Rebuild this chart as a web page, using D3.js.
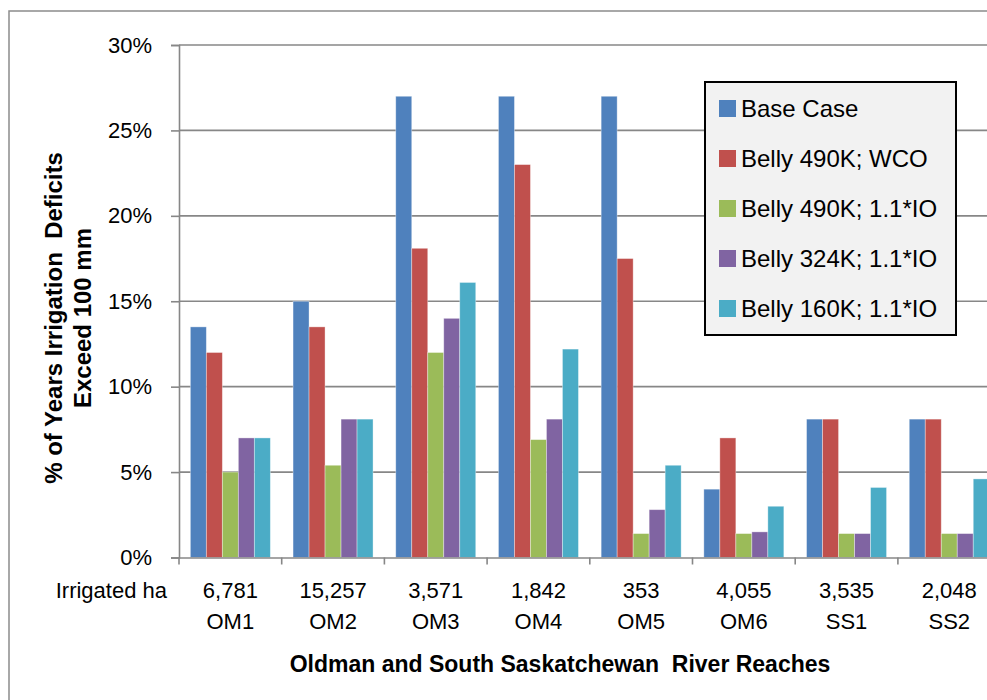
<!DOCTYPE html>
<html>
<head>
<meta charset="utf-8">
<script src="https://cdn.jsdelivr.net/npm/d3@7"></script>
<style>
  html, body { margin: 0; padding: 0; background: #fff; }
  svg { display: block; font-family: "Liberation Sans", Arial, sans-serif; }
  .pre { white-space: pre; }
</style>
</head>
<body>
<svg id="chart" width="987" height="700"></svg>
<script>
const categories = ["OM1", "OM2", "OM3", "OM4", "OM5", "OM6", "SS1", "SS2"];
const irrigatedHa = ["6,781", "15,257", "3,571", "1,842", "353", "4,055", "3,535", "2,048"];
const seriesNames = ["Base Case", "Belly 490K; WCO", "Belly 490K; 1.1*IO", "Belly 324K; 1.1*IO", "Belly 160K; 1.1*IO"];
const baseCase   = [13.5, 15.0, 27.0, 27.0, 27.0, 4.0, 8.1, 8.1];
const belly490WCO = [12.0, 13.5, 18.1, 23.0, 17.5, 7.0, 8.1, 8.1];
const belly490IO = [5.0, 5.4, 12.0, 6.9, 1.4, 1.4, 1.4, 1.4];
const belly324IO = [7.0, 8.1, 14.0, 8.1, 2.8, 1.5, 1.4, 1.4];
const belly160IO = [7.0, 8.1, 16.1, 12.2, 5.4, 3.0, 4.1, 4.6];
const yTicks = [0, 5, 10, 15, 20, 25, 30];
const colors = ["#4F81BD", "#C0504D", "#9BBB59", "#8064A2", "#4BACC6"];

const seriesValues = [baseCase, belly490WCO, belly490IO, belly324IO, belly160IO];
const table = categories.map((c, i) => ({ cat: c, ha: irrigatedHa[i], vals: seriesValues.map(s => s[i]) }));

const svg = d3.select("#chart");

// chart area border
svg.append("rect").attr("x", 9).attr("y", 11).attr("width", 1100).attr("height", 800)
  .attr("fill", "#fff").attr("stroke", "#8c8c8c").attr("stroke-width", 1.5);

const plotLeft = 179, plotRight = 179 + 8 * 102.7;
const x = d3.scaleBand().domain(categories).range([plotLeft, plotRight]).paddingInner(0).paddingOuter(0);
const xs = d3.scaleBand().domain(d3.range(5)).range([0, 80]);
const y = d3.scaleLinear().domain([0, 30]).range([557.5, 45]);
const grpOff = (x.bandwidth() - 80) / 2;

// gridlines
svg.append("g").selectAll("line").data(yTicks.filter(t => t > 0)).join("line")
  .attr("x1", plotLeft).attr("x2", plotRight)
  .attr("y1", d => y(d)).attr("y2", d => y(d))
  .attr("stroke", "#878787").attr("stroke-width", 1.6);

// y axis
const yAxis = d3.axisLeft(y).tickValues(yTicks).tickFormat(d => d + "%").tickSize(8).tickPadding(19);
const yg = svg.append("g").attr("transform", `translate(${plotLeft},0)`).call(yAxis);
yg.select(".domain").attr("stroke", "#878787").attr("stroke-width", 1.6);
yg.selectAll(".tick line").attr("stroke", "#878787").attr("stroke-width", 1.6);
yg.selectAll("text").attr("font-size", 22).attr("fill", "#000").attr("font-family", "Liberation Sans, Arial, sans-serif");

// bars
const groups = svg.append("g").selectAll("g").data(table).join("g")
  .attr("transform", d => `translate(${x(d.cat) + grpOff},0)`);
groups.selectAll("rect").data(d => d.vals.map((v, i) => ({ v, i }))).join("rect")
  .attr("x", d => xs(d.i)).attr("width", xs.bandwidth())
  .attr("y", d => y(d.v)).attr("height", d => y(0) - y(d.v))
  .attr("fill", d => colors[d.i])
  .attr("stroke", "rgba(255,255,255,0.45)").attr("stroke-width", 0.8);

// x axis
const xAxis = d3.axisBottom(x).tickSize(0).tickFormat("");
const xg = svg.append("g").attr("transform", `translate(0,${y(0)})`).call(xAxis);
xg.select(".domain").attr("stroke", "#878787").attr("stroke-width", 1.6);
svg.append("g").selectAll("line").data(categories).join("line")
  .attr("x1", d => x(d)).attr("x2", d => x(d))
  .attr("y1", y(0)).attr("y2", y(0) + 7)
  .attr("stroke", "#878787").attr("stroke-width", 1.6);

// category labels
const lab = svg.append("g").attr("font-size", 22).attr("fill", "#000").attr("text-anchor", "middle");
lab.selectAll("text.ha").data(table).join("text").attr("class", "ha")
  .attr("x", d => x(d.cat) + x.bandwidth() / 2).attr("y", 598).text(d => d.ha);
lab.selectAll("text.cat").data(table).join("text").attr("class", "cat")
  .attr("x", d => x(d.cat) + x.bandwidth() / 2).attr("y", 629).text(d => d.cat);
svg.append("text").attr("x", 167).attr("y", 598).attr("text-anchor", "end")
  .attr("font-size", 22).text("Irrigated ha");

// axis titles
svg.append("text").attr("class", "pre").attr("x", 560).attr("y", 672).attr("text-anchor", "middle")
  .attr("font-size", 23).attr("font-weight", "bold")
  .text("Oldman and South Saskatchewan  River Reaches");
const yt = svg.append("text").attr("class", "pre").attr("transform", "translate(0,318) rotate(-90)")
  .attr("text-anchor", "middle").attr("font-size", 24).attr("font-weight", "bold");
yt.append("tspan").attr("x", 0).attr("y", 62).text("% of Years Irrigation  Deficits");
yt.append("tspan").attr("x", 0).attr("y", 91).text("Exceed 100 mm");

// legend
const lg = svg.append("g");
lg.append("rect").attr("x", 705).attr("y", 82).attr("width", 251).attr("height", 253)
  .attr("fill", "#f2f2f2").attr("stroke", "#000").attr("stroke-width", 2);
const items = lg.selectAll("g").data(seriesNames).join("g")
  .attr("transform", (d, i) => `translate(719,${100 + i * 50})`);
items.append("rect").attr("width", 17).attr("height", 17).attr("fill", (d, i) => colors[i]);
items.append("text").attr("x", 22).attr("y", 17).attr("font-size", 24).text(d => d);
</script>
</body>
</html>
